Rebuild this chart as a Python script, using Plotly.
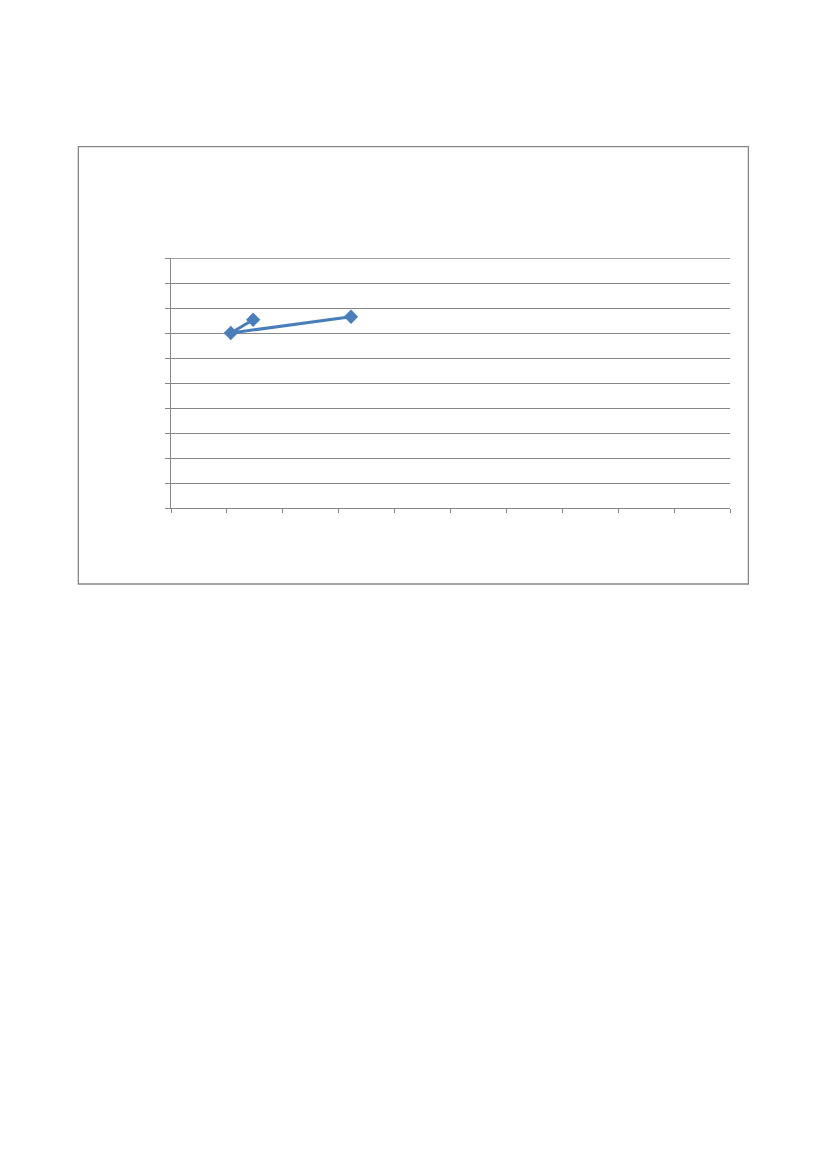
import plotly.graph_objects as go

# series values (axis labels are hidden in the original)
x_vals = [1.47, 1.07, 3.22]
y_vals = [7.53, 7.0, 7.65]

grey = "#868686"
blue = "#4A7EBB"

fig = go.Figure()
fig.add_trace(go.Scatter(
    x=x_vals, y=y_vals,
    mode="lines+markers",
    line=dict(color=blue, width=3),
    marker=dict(symbol="diamond", size=11, color=blue),
    showlegend=False,
))

# plot area in page pixels (browser body adds an 8px offset)
off = 8
left, right, top, bottom = 171 - off, 730.3 - off, 258.3 - off, 508.3 - off
W, H = 827, 1169
pw, ph = right - left, bottom - top

fig.update_layout(
    width=W, height=H,
    margin=dict(l=left, r=W - right, t=top, b=H - bottom, pad=0),
    paper_bgcolor="white",
    plot_bgcolor="white",
    xaxis=dict(range=[0, 10], dtick=1, showgrid=False, zeroline=False,
               showline=True, linecolor=grey, linewidth=1.3,
               ticks="outside", ticklen=4, tickcolor=grey, tickwidth=1.3,
               showticklabels=False),
    yaxis=dict(range=[0, 10], dtick=1, showgrid=True, gridcolor=grey, gridwidth=1.3,
               zeroline=False, showline=True, linecolor=grey, linewidth=1.3,
               ticks="outside", ticklen=5, tickcolor=grey, tickwidth=1.3,
               showticklabels=False),
)

# top gridline (plotly drops the one sitting on the plot edge)
fig.add_shape(type="line", xref="paper", yref="y", x0=0, x1=1, y0=10, y1=10,
              line=dict(color=grey, width=1.3), layer="below")

# outer chart frame
fig.add_shape(
    type="rect", xref="paper", yref="paper",
    x0=(78.3 - off - left) / pw, x1=(748.7 - off - left) / pw,
    y0=(bottom - (584.3 - off)) / ph, y1=(bottom - (147 - off)) / ph,
    line=dict(color=grey, width=1.3), fillcolor="rgba(0,0,0,0)",
    layer="below",
)

fig.write_html("out.html")
